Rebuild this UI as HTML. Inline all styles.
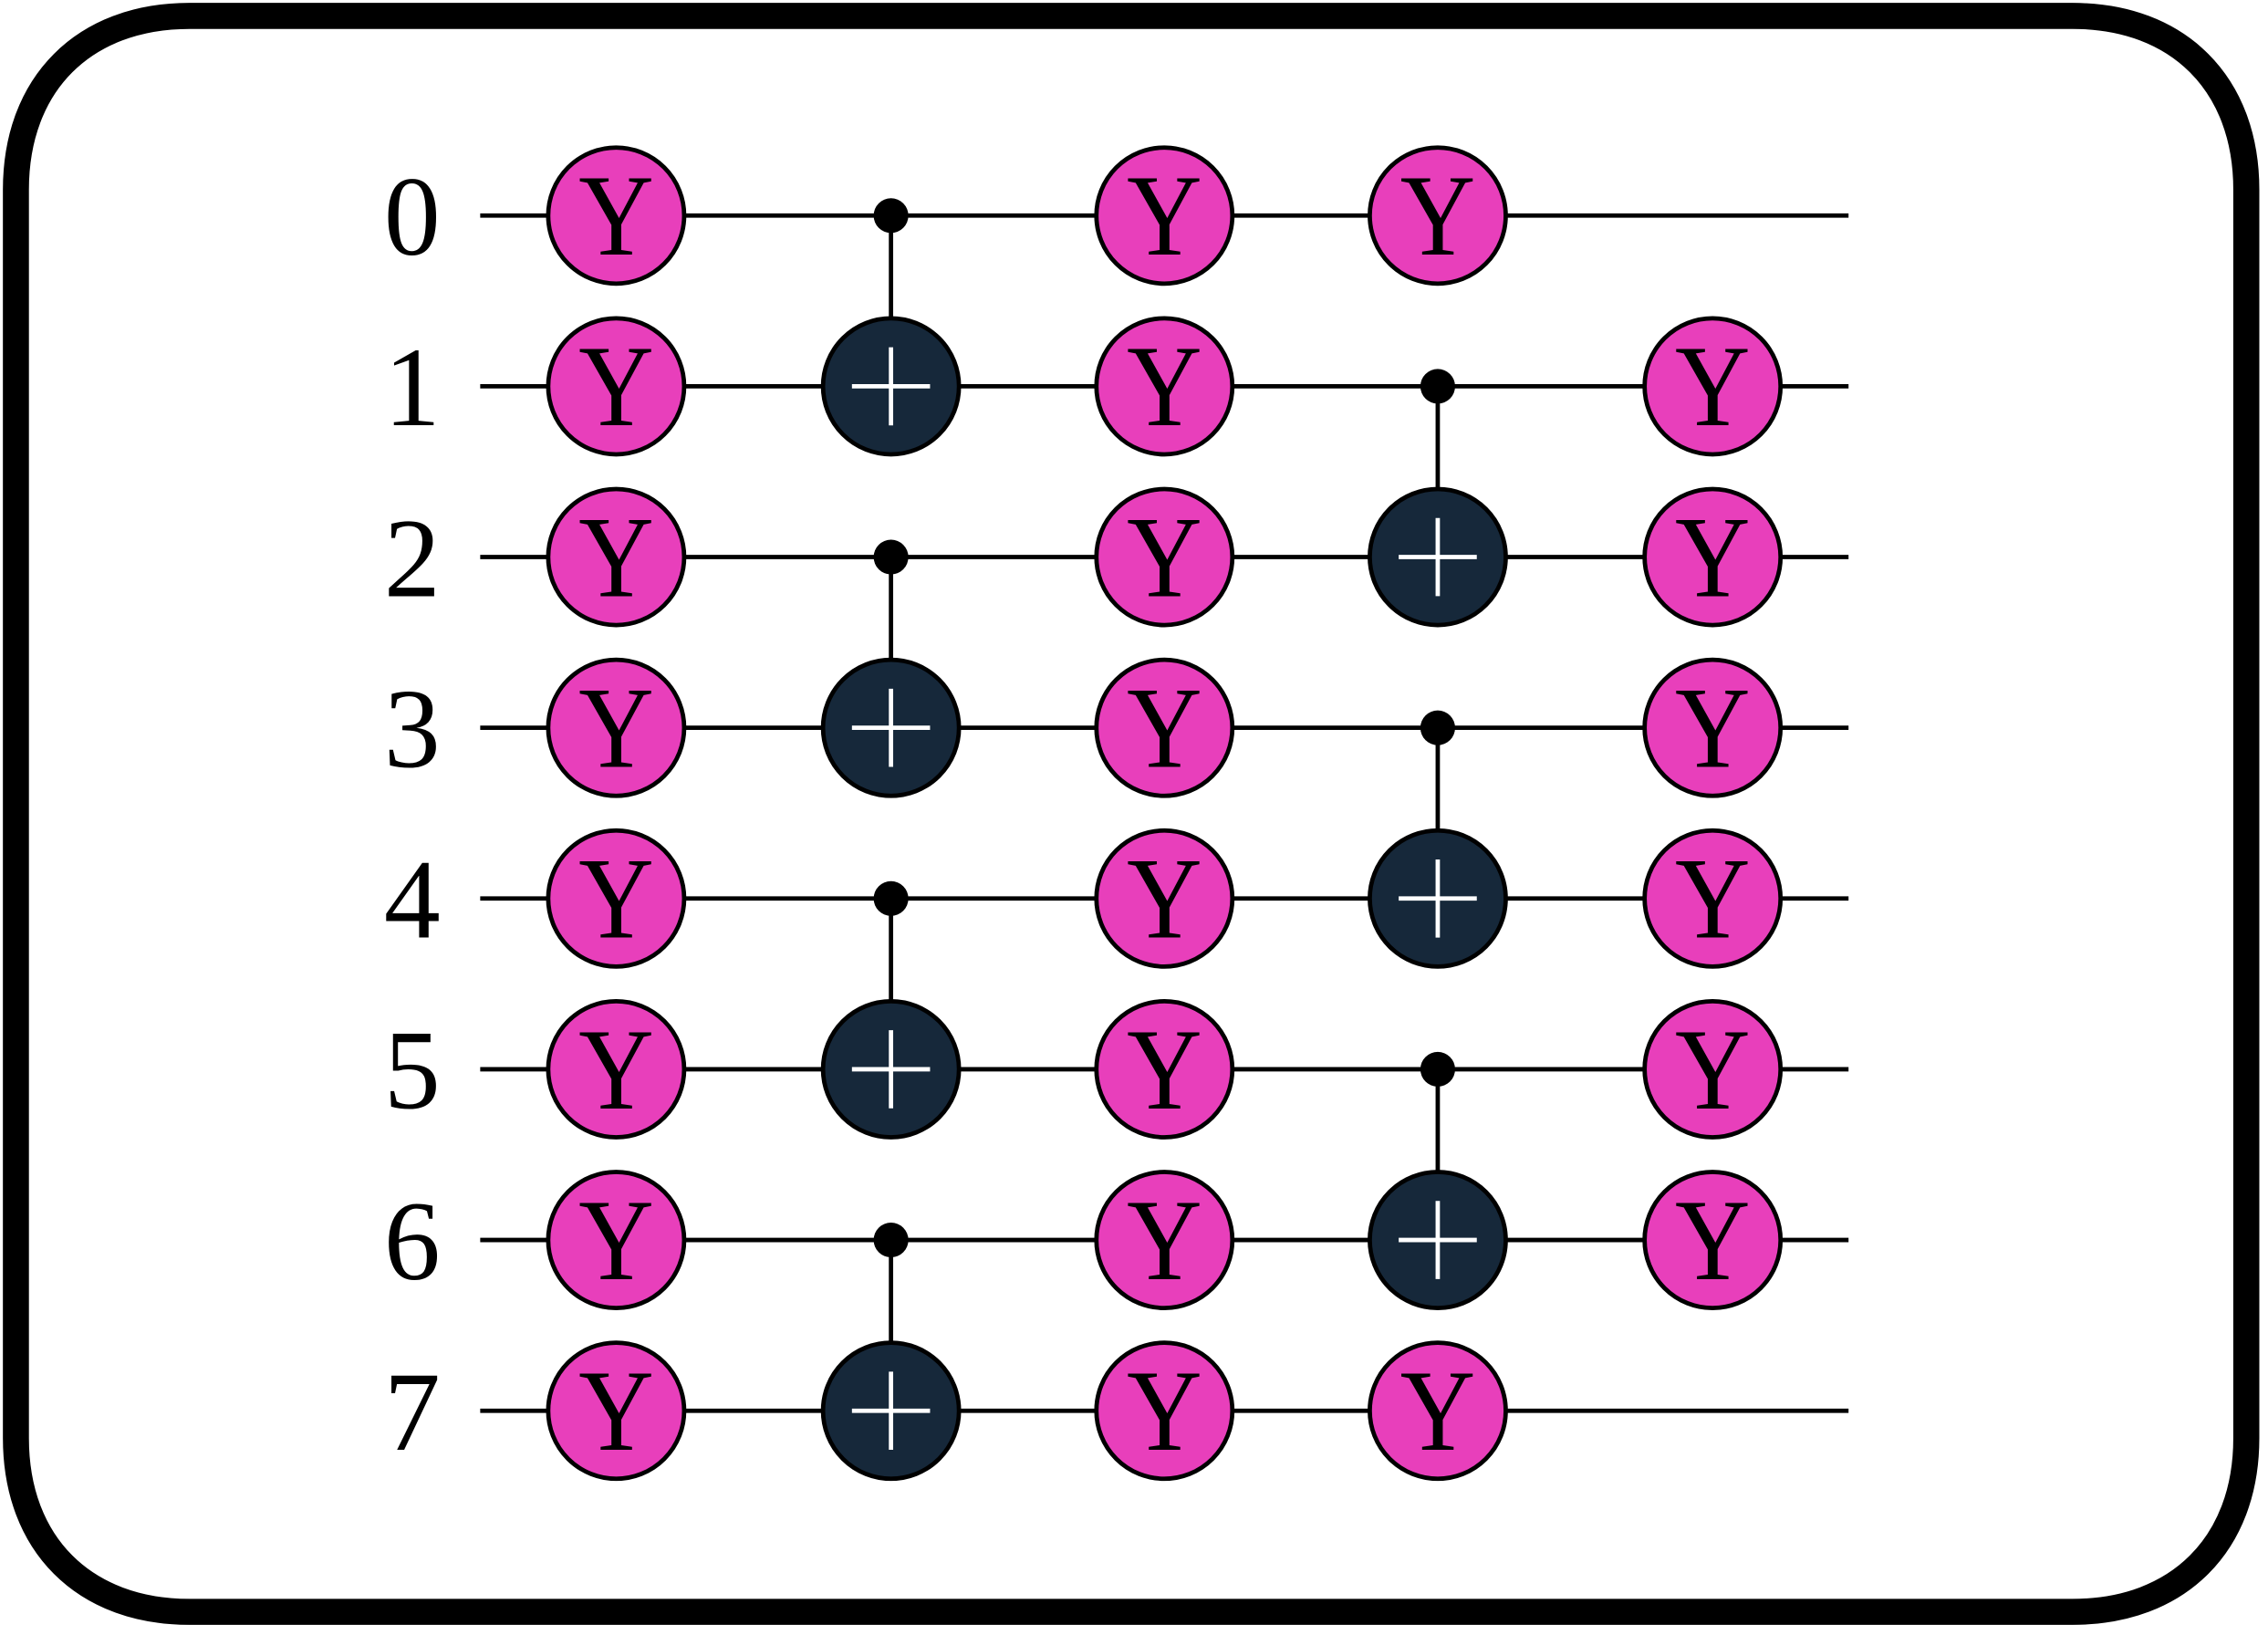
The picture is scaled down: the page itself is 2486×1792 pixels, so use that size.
<!DOCTYPE html>
<html><head><meta charset="utf-8"><style>html,body{margin:0;padding:0;background:#fff}svg{display:block}</style></head><body>
<svg width="2486" height="1792" viewBox="0 0 1568 1130" preserveAspectRatio="none" xmlns="http://www.w3.org/2000/svg">
<path d="M131 11 H1433 C1506 11 1553 58 1553 131 V994 C1553 1067 1506 1114 1433 1114 H131 C58 1114 11 1067 11 994 V131 C11 58 58 11 131 11 Z" fill="#fff" stroke="#000" stroke-width="18"/>
<g stroke="#000" stroke-width="3">
<line x1="332" y1="149" x2="1278" y2="149"/><line x1="332" y1="267" x2="1278" y2="267"/>
<line x1="332" y1="385" x2="1278" y2="385"/><line x1="332" y1="503" x2="1278" y2="503"/>
<line x1="332" y1="621" x2="1278" y2="621"/><line x1="332" y1="739" x2="1278" y2="739"/>
<line x1="332" y1="857" x2="1278" y2="857"/><line x1="332" y1="975" x2="1278" y2="975"/>
<line x1="616" y1="149" x2="616" y2="267"/><line x1="616" y1="385" x2="616" y2="503"/>
<line x1="616" y1="621" x2="616" y2="739"/><line x1="616" y1="857" x2="616" y2="975"/>
<line x1="994" y1="267" x2="994" y2="385"/><line x1="994" y1="503" x2="994" y2="621"/>
<line x1="994" y1="739" x2="994" y2="857"/>
</g>
<g fill="#000">
<circle cx="616" cy="149" r="12"/><circle cx="616" cy="385" r="12"/><circle cx="616" cy="621" r="12"/><circle cx="616" cy="857" r="12"/>
<circle cx="994" cy="267" r="12"/><circle cx="994" cy="503" r="12"/><circle cx="994" cy="739" r="12"/>
</g>
<g font-family="'Liberation Serif',serif" font-size="78" text-anchor="middle" fill="#000">
<text x="285" y="176">0</text><text x="285" y="294">1</text><text x="285" y="412">2</text><text x="285" y="530">3</text>
<text x="285" y="648">4</text><text x="285" y="766">5</text><text x="285" y="884">6</text><text x="285" y="1002">7</text>
</g>
<defs>
<g id="y"><circle r="47" fill="#e83fbb" stroke="#000" stroke-width="3"/><text y="27" font-family="'Liberation Serif',serif" font-size="80" text-anchor="middle" fill="#000" transform="scale(0.9,1)">Y</text></g>
<g id="x"><circle r="47" fill="#16283a" stroke="#000" stroke-width="3"/><line x1="-27" y1="0" x2="27" y2="0" stroke="#fff" stroke-width="3"/><line x1="0" y1="-27" x2="0" y2="27" stroke="#fff" stroke-width="3"/></g>
</defs>
<use href="#y" x="426" y="149"/><use href="#y" x="426" y="267"/><use href="#y" x="426" y="385"/><use href="#y" x="426" y="503"/>
<use href="#y" x="426" y="621"/><use href="#y" x="426" y="739"/><use href="#y" x="426" y="857"/><use href="#y" x="426" y="975"/>
<use href="#x" x="616" y="267"/><use href="#x" x="616" y="503"/><use href="#x" x="616" y="739"/><use href="#x" x="616" y="975"/>
<use href="#y" x="805" y="149"/><use href="#y" x="805" y="267"/><use href="#y" x="805" y="385"/><use href="#y" x="805" y="503"/>
<use href="#y" x="805" y="621"/><use href="#y" x="805" y="739"/><use href="#y" x="805" y="857"/><use href="#y" x="805" y="975"/>
<use href="#y" x="994" y="149"/><use href="#x" x="994" y="385"/><use href="#x" x="994" y="621"/><use href="#x" x="994" y="857"/><use href="#y" x="994" y="975"/>
<use href="#y" x="1184" y="267"/><use href="#y" x="1184" y="385"/><use href="#y" x="1184" y="503"/>
<use href="#y" x="1184" y="621"/><use href="#y" x="1184" y="739"/><use href="#y" x="1184" y="857"/>
</svg>
</body></html>
